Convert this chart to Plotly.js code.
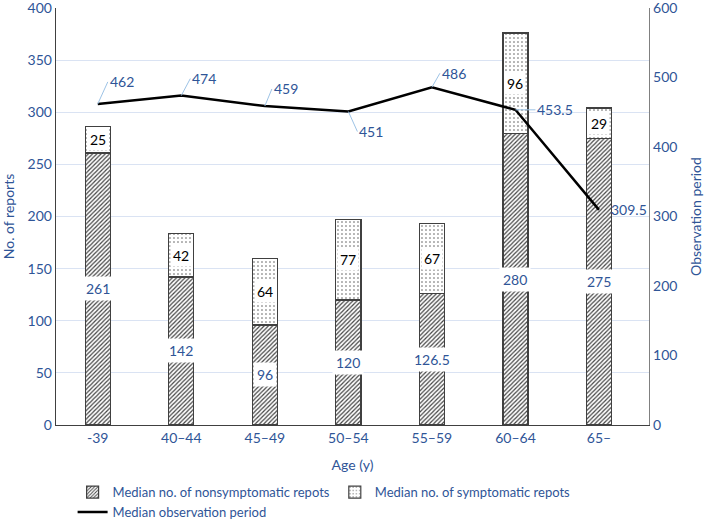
<!DOCTYPE html>
<html><head><meta charset="utf-8">
<script src="https://cdn.plot.ly/plotly-3.0.1.min.js"></script>
<style>html,body{margin:0;padding:0;background:#fff}#c{width:709px;height:531px}</style>
</head><body><div id="c"></div>
<script>
var categories = ['-39','40\u201344','45\u201349','50\u201354','55\u201359','60\u201364','65\u2013'];
var nonsymptomatic = [261, 142, 96, 120, 126.5, 280, 275];
var symptomatic = [25, 42, 64, 77, 67, 96, 29];
var observation = [462, 474, 459, 451, 486, 453.5, 309.5];
var obsLabelOffsets = [[10,-22],[9,-17],[7,-17],[9,20],[8,-14],[20,0],[10,0]];

var blue = '#2f5597';
var font = 'Lato, "Open Sans", sans-serif';

var traces = [
  {type:'bar', x:categories, y:nonsymptomatic, name:'Median no. of nonsymptomatic repots',
   marker:{color:'#ffffff', line:{color:'#404040', width:1.2},
     pattern:{shape:'/', fgcolor:'#444444', bgcolor:'#ffffff', size:3, solidity:0.4}},
   hoverinfo:'skip'},
  {type:'bar', x:categories, y:symptomatic, name:'Median no. of symptomatic repots',
   marker:{color:'#ffffff', line:{color:'#404040', width:1.2},
     pattern:{shape:'.', fgcolor:'#555555', bgcolor:'#ffffff', size:4, solidity:0.12}},
   hoverinfo:'skip'},
  {type:'scatter', mode:'lines', x:categories, y:observation, yaxis:'y2',
   name:'Median observation period', line:{color:'#000000', width:2.5}, hoverinfo:'skip'}
];

var annotations = [];
for (var i=0;i<categories.length;i++){
  annotations.push({x:i, y:nonsymptomatic[i]/2, text:String(nonsymptomatic[i]),
    showarrow:false, bgcolor:'#ffffff', borderpad:3, font:{family:font, size:14, color:blue}});
  annotations.push({x:i, y:nonsymptomatic[i]+symptomatic[i]/2, text:String(symptomatic[i]),
    showarrow:false, bgcolor:'#ffffff', borderpad:2, font:{family:font, size:14, color:'#000000'}});
  var off = obsLabelOffsets[i];
  annotations.push({x:i, y:observation[i], yref:'y2', text:String(observation[i]),
    showarrow:(i<6), arrowhead:0, arrowwidth:1, arrowcolor:'#9dc3e6', ax:off[0], ay:off[1],
    xanchor:'left', yanchor:'middle', xshift:(i<6?0:off[0]),
    font:{family:font, size:14, color:blue}});
}

var layout = {
  width:709, height:531,
  margin:{l:56, r:60, t:8, b:106, autoexpand:false},
  paper_bgcolor:'#ffffff', plot_bgcolor:'#ffffff',
  barmode:'stack', bargap:0.7,
  font:{family:font, size:14, color:blue},
  showlegend:true,
  legend:{orientation:'h', x:0.028, xanchor:'left', y:-0.125, yanchor:'top',
    font:{family:font, size:13, color:blue}, traceorder:'normal', itemwidth:30,
    tracegroupgap:0},
  xaxis:{type:'category', showline:true, linecolor:'#404040', linewidth:1.3,
    ticks:'', tickangle:0, tickfont:{size:14, color:blue},
    title:{text:'Age (y)', font:{size:14, color:blue}, standoff:15}},
  yaxis:{range:[0,400], dtick:50, showline:true, linecolor:'#404040', linewidth:1.3,
    gridcolor:'#dae3f3', gridwidth:1, zeroline:false, ticks:'', ticklabeloverflow:'allow',
    tickfont:{size:14, color:blue},
    title:{text:'No. of reports', font:{size:14, color:blue}, standoff:14}},
  yaxis2:{range:[0,600], dtick:100, overlaying:'y', side:'right', showgrid:false,
    showline:true, linecolor:'#808080', linewidth:1.3, zeroline:false, ticks:'', ticklabeloverflow:'allow',
    tickfont:{size:14, color:blue},
    title:{text:'Observation period', font:{size:14, color:blue}, standoff:14}},
  annotations:annotations
};

Plotly.newPlot('c', traces, layout, {displayModeBar:false, staticPlot:true});
</script></body></html>
